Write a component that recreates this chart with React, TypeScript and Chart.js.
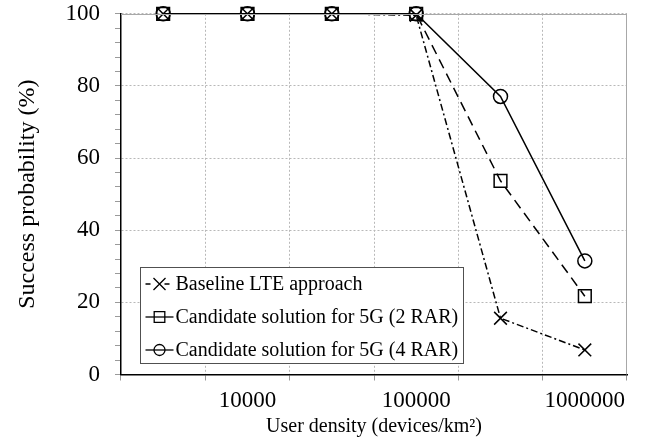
import React, { useEffect, useRef } from 'react';
import { Chart, registerables } from 'chart.js';

Chart.register(...registerables);

// ---- data ----
const categories = ['3000', '10000', '30000', '100000', '300000', '1000000'];
const shownTickLabels = ['', '10000', '', '100000', '', '1000000'];
const baselineLTE = [100, 100, 100, 99.6, 15.6, 6.8];
const candidate2RAR = [100, 100, 100, 100, 53.7, 21.7];
const candidate4RAR = [100, 100, 100, 100, 77.1, 31.5];
const seriesNames = [
  'Baseline LTE approach',
  'Candidate solution for 5G (2 RAR)',
  'Candidate solution for 5G (4 RAR)',
];
const xTitle = 'User density (devices/km²)';
const yTitle = 'Success probability (%)';

const FONT = '"Liberation Serif", "Times New Roman", Times, serif';
const dashes = [[7, 3, 2, 3], [10, 6], []];
const styles = ['crossRot', 'rect', 'circle'];

function drawMarker(ctx: CanvasRenderingContext2D, style: string, x: number, y: number, r: number) {
  ctx.beginPath();
  if (style === 'crossRot') {
    const o = r * Math.SQRT1_2;
    ctx.moveTo(x - o, y - o); ctx.lineTo(x + o, y + o);
    ctx.moveTo(x - o, y + o); ctx.lineTo(x + o, y - o);
  } else if (style === 'rect') {
    const s = r * Math.SQRT1_2;
    ctx.rect(x - s, y - s, 2 * s, 2 * s);
  } else {
    ctx.arc(x, y, r, 0, Math.PI * 2);
  }
  ctx.stroke();
}

const framePlugin = {
  id: 'frameAndLegend',
  afterDraw(chart: any) {
    const { ctx, chartArea: ca } = chart;
    ctx.save();
    // top and right frame
    ctx.setLineDash([]);
    ctx.strokeStyle = '#a8a8a8';
    ctx.lineWidth = 1;
    ctx.beginPath();
    ctx.moveTo(ca.left, Math.round(ca.top) + 0.5);
    ctx.lineTo(ca.right, Math.round(ca.top) + 0.5);
    ctx.moveTo(Math.round(ca.right) - 0.5, ca.top);
    ctx.lineTo(Math.round(ca.right) - 0.5, ca.bottom);
    ctx.stroke();

    // legend box
    const left = Math.round(ca.left + 19) + 0.5;
    const top = Math.round(ca.bottom - 108) + 0.5;
    const w = 323;
    const h = 96;
    ctx.fillStyle = '#ffffff';
    ctx.fillRect(left, top, w, h);
    ctx.strokeStyle = '#505050';
    ctx.lineWidth = 1;
    ctx.strokeRect(left, top, w, h);

    ctx.font = `20px ${FONT}`;
    ctx.textBaseline = 'middle';
    ctx.textAlign = 'left';
    for (let i = 0; i < seriesNames.length; i++) {
      const cy = top + 16.5 + 33 * i;
      ctx.strokeStyle = '#000';
      ctx.lineWidth = 1.3;
      ctx.setLineDash(i === 0 ? [5, 14, 5] : []);
      ctx.beginPath();
      ctx.moveTo(left + 5, cy);
      ctx.lineTo(left + 33, cy);
      ctx.stroke();
      ctx.setLineDash([]);
      drawMarker(ctx, styles[i], left + 19, cy, i === 0 ? 8.5 : i === 1 ? 7.5 : 5.5);
      ctx.fillStyle = '#000';
      ctx.fillText(seriesNames[i], left + 35, cy + 1);
    }
    ctx.restore();
  },
};

export default function App() {
  const ref = useRef<HTMLCanvasElement>(null);

  useEffect(() => {
    const canvas = ref.current!;
    const series = [baselineLTE, candidate2RAR, candidate4RAR];
    const radii = [9, 9, 7];
    const chart = new Chart(canvas, {
      type: 'line',
      data: {
        labels: categories,
        datasets: series.map((d, i) => ({
          label: seriesNames[i],
          data: d,
          borderColor: '#000',
          borderWidth: 1.5,
          borderDash: dashes[i],
          backgroundColor: 'rgba(0,0,0,0)',
          pointStyle: styles[i] as any,
          pointRadius: radii[i],
          pointBorderWidth: 1.5,
          pointBorderColor: '#000',
          pointBackgroundColor: 'rgba(0,0,0,0)',
          tension: 0,
          fill: false,
          clip: false as any,
        })),
      },
      options: {
        animation: false,
        responsive: false,
        devicePixelRatio: 1,
        layout: { padding: { left: 0, right: 21, top: 0, bottom: 0 } },
        plugins: {
          legend: { display: false },
          tooltip: { enabled: false },
        },
        scales: {
          x: {
            type: 'category',
            offset: true,
            afterFit: (s: any) => { s.height = 70.5; },
            grid: {
              offset: true,
              z: -1,
              color: (c: any) => (c.type === 'tick' && c.index === 0 ? 'rgba(0,0,0,0)' : '#b8b8b8'),
              lineWidth: 1,
              drawTicks: true,
              tickLength: 6,
              tickColor: '#9a9a9a',
            },
            border: { display: true, color: '#000', width: 1.5, dash: [2, 2] },
            ticks: {
              autoSkip: false,
              maxRotation: 0,
              padding: 7,
              color: '#000',
              font: { family: FONT, size: 23 },
              callback: (_v: any, i: number) => shownTickLabels[i],
            },
            title: {
              display: true,
              text: xTitle,
              color: '#000',
              font: { family: FONT, size: 20 },
              padding: { top: 0, bottom: 6 },
            },
          },
          y: {
            min: 0,
            max: 100,
            afterFit: (s: any) => { s.width = 121; },
            grid: {
              z: -1,
              color: (c: any) =>
                c.tick && c.tick.value % 20 === 0 && c.tick.value !== 0 ? '#b8b8b8' : 'rgba(0,0,0,0)',
              lineWidth: 1,
              drawTicks: true,
              tickLength: 6,
              tickColor: '#9a9a9a',
            },
            border: { display: true, color: '#000', width: 1.5, dash: [2, 2] },
            ticks: {
              stepSize: 4,
              autoSkip: false,
              padding: 15,
              color: '#000',
              font: { family: FONT, size: 23 },
              callback: (v: any) => (Number(v) % 20 === 0 ? String(v) : ''),
            },
            title: {
              display: true,
              text: yTitle,
              color: '#000',
              font: { family: FONT, size: 24 },
              padding: { top: 13, bottom: 0 },
            },
          },
        },
      },
      plugins: [framePlugin],
    });
    return () => chart.destroy();
  }, []);

  return (
    <div style={{ position: 'absolute', left: 0, top: -15, width: 648, height: 460, background: '#fff' }}>
      <canvas ref={ref} width={648} height={460} style={{ display: 'block', width: 648, height: 460 }} />
    </div>
  );
}
